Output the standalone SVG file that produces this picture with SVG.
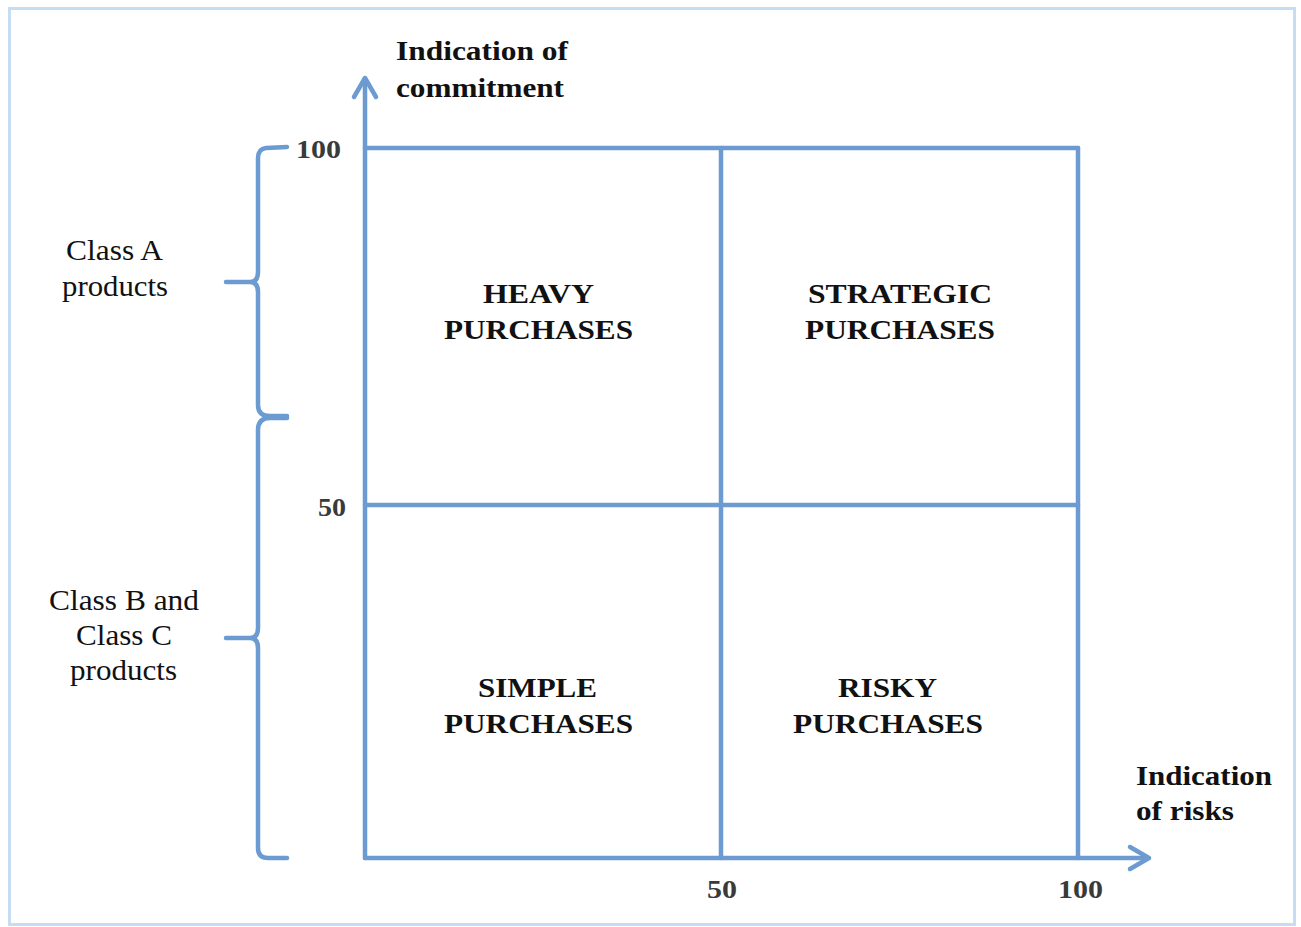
<svg xmlns="http://www.w3.org/2000/svg" width="1301" height="927" viewBox="0 0 1301 927">
<style>
.ax{fill:none;stroke:#6b9bd1;stroke-width:4.5;stroke-linecap:round;stroke-linejoin:round}
.br{fill:none;stroke:#6b9bd1;stroke-width:4.5;stroke-linecap:round;stroke-linejoin:round}
.lbl{font-family:"Liberation Serif","Times New Roman",serif;font-weight:bold;font-size:28px;fill:#111}
.num{font-family:"Liberation Serif","Times New Roman",serif;font-weight:bold;font-size:25px;fill:#3a3a3a}
.cls{font-family:"Liberation Serif","Times New Roman",serif;font-size:29px;fill:#111}
.q{font-family:"Liberation Serif","Times New Roman",serif;font-weight:bold;font-size:28px;fill:#111;text-anchor:middle}
</style>
<rect x="0" y="0" width="1301" height="927" fill="#ffffff"/>
<rect id="frame" x="9.5" y="8.5" width="1285" height="916" fill="none" stroke="#c6dcf2" stroke-width="3"/>

<g id="connectors">
  <line class="ax" x1="365" y1="79" x2="365" y2="858"/>
  <polyline class="ax" points="354,97 365,78 376,97"/>
  <line class="ax" x1="365" y1="858" x2="1148" y2="858"/>
  <polyline class="ax" points="1130,847 1149,858 1130,869"/>
  <line class="ax" x1="365" y1="148" x2="1078" y2="148"/>
  <line class="ax" x1="1078" y1="148" x2="1078" y2="858"/>
  <line class="ax" x1="721" y1="148" x2="721" y2="858"/>
  <line class="ax" x1="365" y1="505" x2="1078" y2="505"/>
  <path class="br" d="M287,147 L266,148 Q258,149 258,158 L258,272 Q258,282 250,282 L226,282 M250,282 Q258,282 258,292 L258,405 Q258,416 270,416 L287,416"/>
  <path class="br" d="M287,418 L270,418 Q258,418 258,430 L258,628 Q258,638 250,638 L226,638 M250,638 Q258,638 258,648 L258,848 Q258,858 268,858 L287,858"/>
</g>

<g id="y-axis-label">
  <text class="lbl" x="396" y="60" textLength="172" lengthAdjust="spacingAndGlyphs">Indication of</text>
  <text class="lbl" x="396" y="97" textLength="168" lengthAdjust="spacingAndGlyphs">commitment</text>
</g>
<g id="x-axis-label">
  <text class="lbl" x="1136" y="785" textLength="136" lengthAdjust="spacingAndGlyphs">Indication</text>
  <text class="lbl" x="1136" y="820" textLength="98" lengthAdjust="spacingAndGlyphs">of risks</text>
</g>

<g id="ticks">
  <text class="num" x="296" y="158" textLength="45" lengthAdjust="spacingAndGlyphs">100</text>
  <text class="num" x="318" y="516" textLength="28" lengthAdjust="spacingAndGlyphs">50</text>
  <text class="num" x="707" y="898" textLength="30" lengthAdjust="spacingAndGlyphs">50</text>
  <text class="num" x="1058" y="898" textLength="45" lengthAdjust="spacingAndGlyphs">100</text>
</g>

<g id="class-a">
  <text class="cls" x="66" y="260" textLength="97" lengthAdjust="spacingAndGlyphs">Class A</text>
  <text class="cls" x="62" y="296" textLength="106" lengthAdjust="spacingAndGlyphs">products</text>
</g>
<g id="class-bc">
  <text class="cls" x="49" y="610" textLength="150" lengthAdjust="spacingAndGlyphs">Class B and</text>
  <text class="cls" x="76" y="645" textLength="96" lengthAdjust="spacingAndGlyphs">Class C</text>
  <text class="cls" x="70" y="680" textLength="107" lengthAdjust="spacingAndGlyphs">products</text>
</g>

<g id="heavy">
  <text class="q" x="538.5" y="303" textLength="111" lengthAdjust="spacingAndGlyphs">HEAVY</text>
  <text class="q" x="538.5" y="339" textLength="189" lengthAdjust="spacingAndGlyphs">PURCHASES</text>
</g>
<g id="strategic">
  <text class="q" x="900" y="303" textLength="184" lengthAdjust="spacingAndGlyphs">STRATEGIC</text>
  <text class="q" x="900" y="339" textLength="190" lengthAdjust="spacingAndGlyphs">PURCHASES</text>
</g>
<g id="simple">
  <text class="q" x="537.5" y="697" textLength="119" lengthAdjust="spacingAndGlyphs">SIMPLE</text>
  <text class="q" x="538.5" y="733" textLength="189" lengthAdjust="spacingAndGlyphs">PURCHASES</text>
</g>
<g id="risky">
  <text class="q" x="887.5" y="697" textLength="99" lengthAdjust="spacingAndGlyphs">RISKY</text>
  <text class="q" x="888" y="733" textLength="190" lengthAdjust="spacingAndGlyphs">PURCHASES</text>
</g>
</svg>
